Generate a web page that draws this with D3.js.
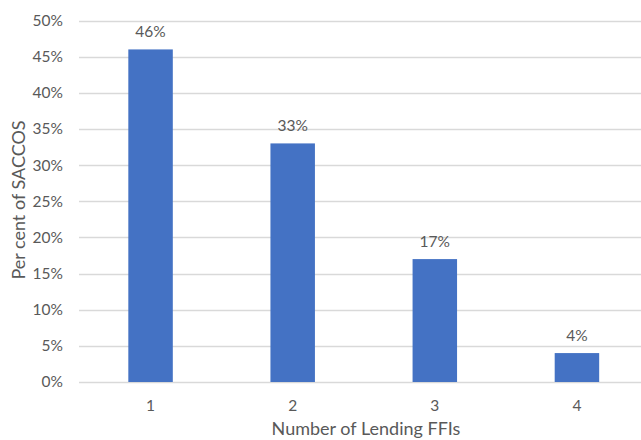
<!DOCTYPE html>
<html><head><meta charset="utf-8">
<script src="https://cdn.jsdelivr.net/npm/d3@7"></script>
<style>body{margin:0;background:#fff}svg{display:block}text{font-family:Lato,"Open Sans",sans-serif;fill:#595959}</style>
</head><body>
<svg id="c" width="641" height="440"></svg>
<script>
const categories = ["1","2","3","4"];
const values = [0.46, 0.33, 0.17, 0.04];
const yTicks = [0,0.05,0.10,0.15,0.20,0.25,0.30,0.35,0.40,0.45,0.50];
const xTitle = "Number of Lending FFIs";
const yTitle = "Per cent of SACCOS";

const svg = d3.select("#c");
const x = d3.scaleBand().domain(categories).range([79.5, 648]).paddingInner(0.687).paddingOuter(0.3435);
const y = d3.scaleLinear().domain([0,0.5]).range([382,20.5]);

svg.append("g").selectAll("line").data(yTicks).join("line")
  .attr("x1",79).attr("x2",641).attr("y1",d=>Math.round(y(d))+0.5).attr("y2",d=>Math.round(y(d))+0.5)
  .attr("stroke","#d9d9d9").attr("stroke-width",1.3);

svg.append("g").selectAll("text").data(yTicks).join("text")
  .attr("x",63).attr("y",d=>y(d)).attr("dy","0.35em").attr("text-anchor","end")
  .style("font-size","15.5px").text(d3.format(".0%"));

svg.append("g").selectAll("rect").data(values).join("rect")
  .attr("x",(d,i)=>x(categories[i])).attr("width",x.bandwidth())
  .attr("y",d=>y(d)).attr("height",d=>y(0)-y(d)).attr("fill","#4472c4");

svg.append("g").selectAll("text").data(values).join("text")
  .attr("x",(d,i)=>x(categories[i])+x.bandwidth()/2).attr("y",d=>y(d)-18).attr("dy","0.35em")
  .attr("text-anchor","middle").style("font-size","15.5px").text(d3.format(".0%"));

svg.append("g").selectAll("text").data(categories).join("text")
  .attr("x",d=>x(d)+x.bandwidth()/2).attr("y",406).attr("dy","0.35em")
  .attr("text-anchor","middle").style("font-size","15.5px").text(d=>d);

svg.append("text").attr("x",366).attr("y",429).attr("dy","0.35em").attr("text-anchor","middle")
  .style("font-size","18px").text(xTitle);

svg.append("text").attr("transform","translate(19,200) rotate(-90)").attr("dy","0.35em")
  .attr("text-anchor","middle").style("font-size","18px").text(yTitle);
</script>
</body></html>
